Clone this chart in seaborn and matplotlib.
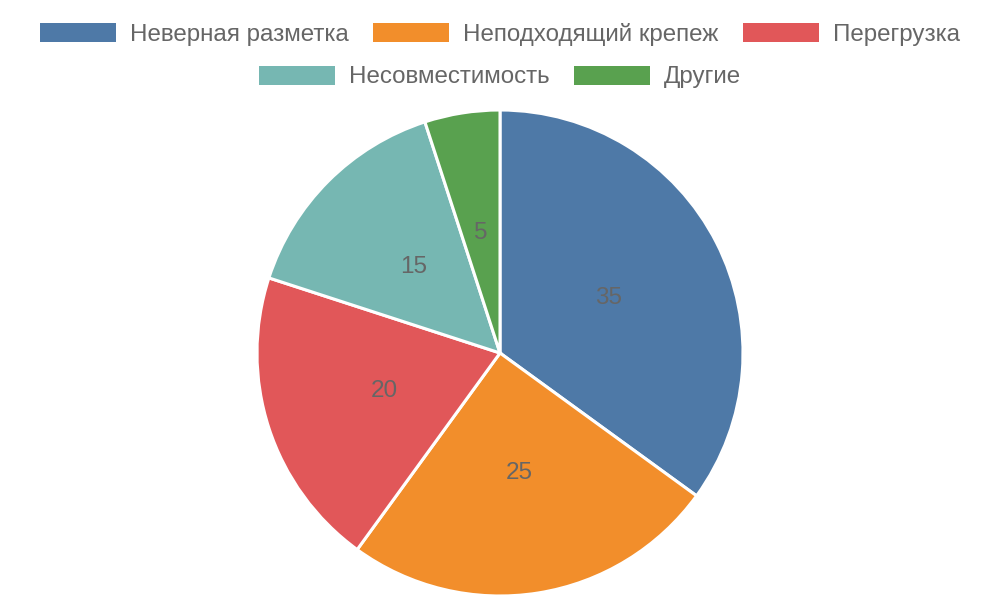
import matplotlib
matplotlib.use("Agg")
import matplotlib.pyplot as plt
from matplotlib.patches import Patch
import seaborn as sns

labels = ["Неверная разметка", "Неподходящий крепеж", "Перегрузка", "Несовместимость", "Другие"]
values = [35, 25, 20, 15, 5]
colors = ["#4e79a7", "#f28e2b", "#e15759", "#76b7b2", "#59a14f"]

sns.set_theme(style="white")
plt.rcParams["font.family"] = ["Liberation Sans", "DejaVu Sans"]

fig = plt.figure(figsize=(10, 6), dpi=100)
ax = fig.add_axes([0.257, 4 / 600, 0.486, 486 / 600])

total = sum(values)
wedges, texts, autotexts = ax.pie(
    values, colors=colors, startangle=90, counterclock=False,
    autopct=lambda p: f"{p * total / 100:.0f}", pctdistance=0.5,
    wedgeprops={"edgecolor": "white", "linewidth": 2.2},
    textprops={"color": "#666666", "fontsize": 17.5},
)
ax.set_xlim(-1, 1)
ax.set_ylim(-1, 1)
ax.set_aspect("equal")
ax.axis("off")

handles = [Patch(facecolor=c, edgecolor="none") for c in colors]
common = dict(frameon=False, fontsize=17.4, handlelength=3.14, handleheight=0.83,
              handletextpad=0.58, columnspacing=1.0, labelcolor="#666666",
              borderaxespad=0, borderpad=0)
leg1 = fig.legend(handles[:3], labels[:3], ncol=3, loc="center",
                  bbox_to_anchor=(0.5, 1 - 34 / 600), **common)
leg2 = fig.legend(handles[3:], labels[3:], ncol=2, loc="center",
                  bbox_to_anchor=(0.5, 1 - 77 / 600), **common)

fig.savefig("out.png", dpi=100)
